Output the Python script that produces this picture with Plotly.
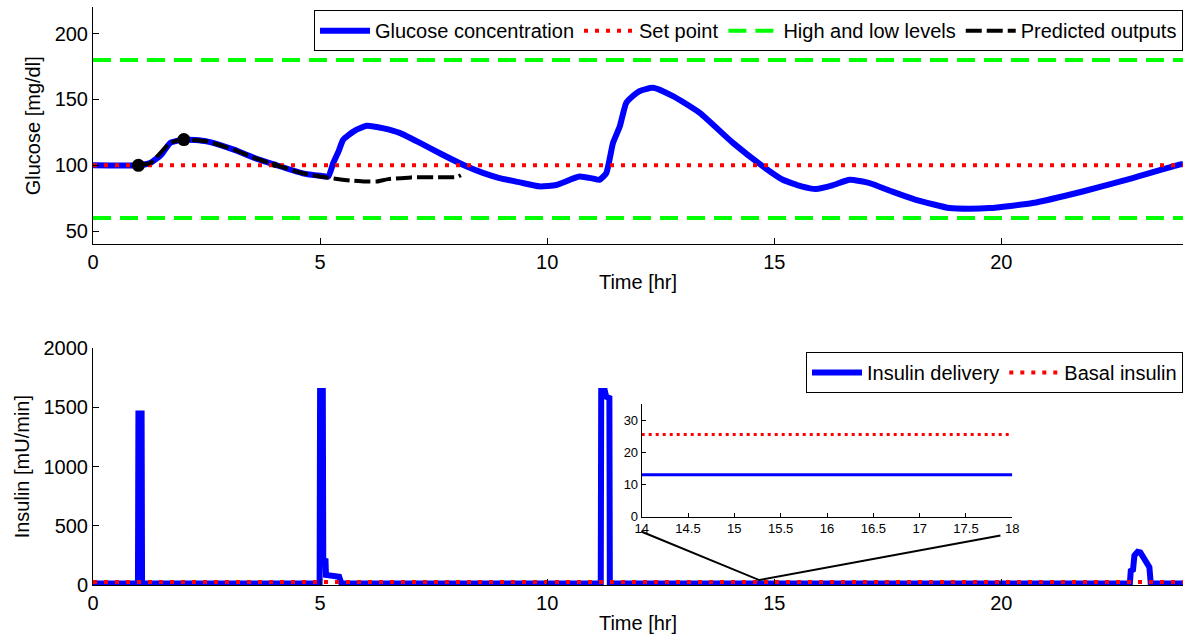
import plotly.graph_objects as go

# ---------------- data ----------------
# Glucose concentration (mg/dl) vs time (hr)
gluc_t = [0, 1.0, 1.26, 1.5, 1.7, 2.0, 2.5, 3.1, 3.6, 4.0, 4.6, 5.0, 5.18, 5.29, 5.4, 5.51,
          5.75, 6.03, 6.4, 6.75, 7.2, 7.7, 8.22, 8.6, 8.95, 9.4, 9.83, 10.2, 10.71, 11.0,
          11.15, 11.3, 11.45, 11.6, 11.74, 11.9, 12.03, 12.33, 12.77, 13.36, 14.09, 14.75,
          15.19, 15.6, 15.92, 16.3, 16.66, 17.1, 17.6, 18.12, 18.86, 19.3, 19.74, 20.69, 21.79,
          22.89, 23.92, 24.0]
gluc_v = [100, 100, 101.7, 108, 117, 119.5, 118.2, 111.9, 105, 100.5, 94.1, 92, 91.5, 101.8,
          110, 119.5, 126, 130, 128, 124.6, 117, 108, 99.2, 94, 90.3, 87, 84, 85, 91.5, 90,
          89, 94, 117, 129.6, 147.4, 153, 156.3, 158.9, 152.5, 139.8, 117, 99.2, 89, 84, 82,
          85, 89, 86.5, 80, 73.8, 67.5, 67, 67.5, 71.3, 80.1, 90.3, 100.5, 101]

# Predicted outputs
pred_t = [1.0, 1.26, 1.7, 2.0, 2.5, 3.1, 3.6, 4.0, 4.6, 5.0, 5.3, 5.66, 6.0, 6.25, 6.5,
          7.0, 7.5, 8.0, 8.1]
pred_v = [100, 101.7, 117, 119.5, 118.2, 111.9, 105, 100.5, 94.1, 91.5, 90, 88.5, 87.7,
          87.7, 89.5, 90.8, 91, 91, 92.5]

# Prediction start points (markers)
mark_t = [1.0, 2.0]
mark_v = [100, 119.5]
small_mark_t = [4.0]
small_mark_v = [100.5]

set_point = 100
high_level = 180
low_level = 60
t_range = [0, 24]

# Insulin delivery (mU/min)
ins_t = [0, 0.99, 1.0, 1.07, 1.08, 4.99, 5.0, 5.06, 5.07, 5.12, 5.13, 5.35, 5.42, 5.47,
         11.18, 11.19, 11.27, 11.3, 11.37, 11.38, 22.83, 22.85, 22.9, 22.93, 23.0, 23.06,
         23.15, 23.2, 23.26, 23.29, 24.0]
ins_v = [13, 13, 1450, 1450, 13, 13, 1640, 1640, 200, 200, 85, 80, 70, 13,
         13, 1640, 1640, 1590, 1580, 13, 13, 120, 130, 250, 280, 275,
         210, 200, 150, 13, 13]
basal_insulin = 25.5

# Inset (zoom of 14-18 hr)
inset_t = [14, 18]
inset_ins = [13, 13]
inset_basal = [25.5, 25.5]

# zoom-indicator lines (in lower-axes data units)
zoom_lines_x = [12.07, 14.67, 19.98]
zoom_lines_y = [452, 42, 418]

# ---------------- figure ----------------
BLUE = "#0000FF"
RED = "#FF0000"
GREEN = "#00FF00"
FONT = "Liberation Sans, Arial, sans-serif"

fig = go.Figure()

# --- top panel ---
fig.add_trace(go.Scatter(x=gluc_t, y=gluc_v, mode="lines", name="Glucose concentration",
                         line=dict(color=BLUE, width=6, shape="spline", smoothing=0.5),
                         xaxis="x", yaxis="y", legend="legend"))
fig.add_trace(go.Scatter(x=t_range, y=[set_point, set_point], mode="lines", name="Set point",
                         line=dict(color=RED, width=4, dash="4px,7px"), xaxis="x", yaxis="y",
                         legend="legend"))
fig.add_trace(go.Scatter(x=t_range, y=[high_level, high_level], mode="lines",
                         name="High and low levels",
                         line=dict(color=GREEN, width=4, dash="18px,9px"), xaxis="x", yaxis="y",
                         legend="legend"))
fig.add_trace(go.Scatter(x=t_range, y=[low_level, low_level], mode="lines",
                         name="High and low levels", showlegend=False,
                         line=dict(color=GREEN, width=4, dash="18px,9px"), xaxis="x", yaxis="y"))
fig.add_trace(go.Scatter(x=pred_t, y=pred_v, mode="lines", name="Predicted outputs",
                         line=dict(color="black", width=4, dash="16px,5px", shape="spline",
                                   smoothing=0.5),
                         xaxis="x", yaxis="y", legend="legend"))
fig.add_trace(go.Scatter(x=mark_t, y=mark_v, mode="markers", showlegend=False,
                         marker=dict(color="black", size=13), xaxis="x", yaxis="y"))
fig.add_trace(go.Scatter(x=small_mark_t, y=small_mark_v, mode="markers", showlegend=False,
                         marker=dict(color="black", size=6), xaxis="x", yaxis="y"))

# --- bottom panel ---
fig.add_trace(go.Scatter(x=ins_t, y=ins_v, mode="lines", name="Insulin delivery",
                         line=dict(color=BLUE, width=6), xaxis="x2", yaxis="y2",
                         legend="legend2"))
fig.add_trace(go.Scatter(x=t_range, y=[basal_insulin, basal_insulin], mode="lines",
                         name="Basal insulin",
                         line=dict(color=RED, width=4, dash="4px,7px"), xaxis="x2", yaxis="y2",
                         legend="legend2"))
fig.add_trace(go.Scatter(x=zoom_lines_x, y=zoom_lines_y, mode="lines", showlegend=False,
                         line=dict(color="black", width=2), xaxis="x2", yaxis="y2"))

# --- inset ---
fig.add_trace(go.Scatter(x=inset_t, y=inset_ins, mode="lines", showlegend=False,
                         line=dict(color=BLUE, width=3), xaxis="x3", yaxis="y3"))
fig.add_trace(go.Scatter(x=inset_t, y=inset_basal, mode="lines", showlegend=False,
                         line=dict(color=RED, width=3, dash="3px,4px"), xaxis="x3", yaxis="y3"))

axis_common = dict(showline=True, linecolor="black", linewidth=1, ticks="inside",
                   ticklen=6, tickcolor="black", showgrid=False, zeroline=False,
                   mirror=False, automargin=False,
                   tickfont=dict(family=FONT, size=20, color="black"))

TITLE_FONT = dict(family=FONT, size=20, color="black")

fig.update_layout(
    width=1183, height=635,
    margin=dict(l=93, r=0, t=0, b=0, autoexpand=False),
    paper_bgcolor="white", plot_bgcolor="white",
    font=dict(family=FONT, color="black"),
    xaxis=dict(domain=[0, 1], range=[0, 24], tickvals=[0, 5, 10, 15, 20], anchor="y",
               title=dict(text="Time [hr]", font=TITLE_FONT, standoff=2), **axis_common),
    yaxis=dict(domain=[0.6153, 0.9885], range=[40, 220], tickvals=[50, 100, 150, 200],
               anchor="x",
               title=dict(text="Glucose [mg/dl]", font=TITLE_FONT, standoff=8),
               **axis_common),
    xaxis2=dict(domain=[0, 1], range=[0, 24], tickvals=[0, 5, 10, 15, 20], anchor="y2",
                title=dict(text="Time [hr]", font=TITLE_FONT, standoff=2), **axis_common),
    yaxis2=dict(domain=[0.0787, 0.4515], range=[0, 2000],
                tickvals=[0, 500, 1000, 1500, 2000], anchor="x2",
                title=dict(text="Insulin [mU/min]", font=TITLE_FONT, standoff=8),
                **axis_common),
    xaxis3=dict(domain=[0.5034, 0.8434], range=[14, 18],
                tickvals=[14, 14.5, 15, 15.5, 16, 16.5, 17, 17.5, 18],
                ticktext=["14", "14.5", "15", "15.5", "16", "16.5", "17", "17.5", "18"],
                anchor="y3", showline=True, linecolor="black", linewidth=1, ticks="inside",
                ticklen=4, tickcolor="black", showgrid=False, zeroline=False, automargin=False,
                tickfont=dict(family=FONT, size=13, color="black")),
    yaxis3=dict(domain=[0.1863, 0.3638], range=[0, 35], tickvals=[0, 10, 20, 30],
                anchor="x3", showline=True, linecolor="black", linewidth=1, ticks="inside",
                ticklen=4, tickcolor="black", showgrid=False, zeroline=False, automargin=False,
                tickfont=dict(family=FONT, size=13, color="black")),
    legend=dict(orientation="h", x=1, xanchor="right", y=0.984, yanchor="top",
                bordercolor="black", borderwidth=1, bgcolor="white",
                font=dict(family=FONT, size=20, color="black"),
                itemwidth=50, tracegroupgap=0),
    legend2=dict(orientation="h", x=1, xanchor="right", y=0.4457, yanchor="top",
                 bordercolor="black", borderwidth=1, bgcolor="white",
                 font=dict(family=FONT, size=20, color="black"),
                 itemwidth=50),
    showlegend=True,
)

fig.write_html("out.html")
